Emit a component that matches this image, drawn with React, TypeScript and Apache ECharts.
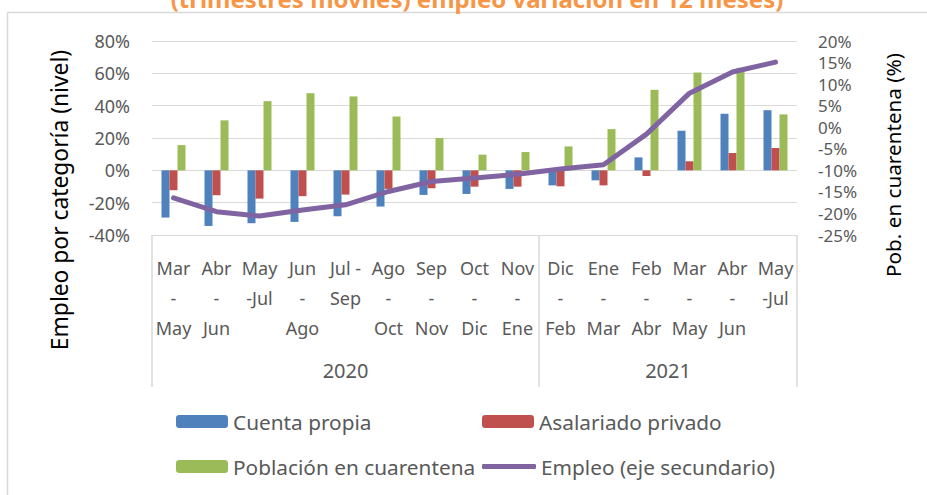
import React, { useEffect, useRef } from "react";
import * as echarts from "echarts";

const categories = [
  "Mar\n-\nMay", "Abr\n-\nJun", "May\n-Jul", "Jun\n-\nAgo", "Jul -\nSep",
  "Ago\n-\nOct", "Sep\n-\nNov", "Oct\n-\nDic", "Nov\n-\nEne", "Dic\n-\nFeb",
  "Ene\n-\nMar", "Feb\n-\nAbr", "Mar\n-\nMay", "Abr\n-\nJun", "May\n-Jul",
];
const years = ["2020", "2021"];
const yearCounts = [9, 6];

const cuentaPropia = [-29.2, -34.4, -32.7, -31.9, -28.4, -22.4, -15.2, -14.6, -11.5, -9.3, -6.2, 8.0, 24.5, 35.0, 37.2];
const asalariadoPrivado = [-12.3, -15.4, -17.5, -16.0, -15.0, -11.5, -11.1, -10.1, -10.1, -9.9, -9.3, -3.5, 5.6, 10.7, 13.8];
const poblacionCuarentena = [15.6, 30.9, 42.8, 47.7, 45.7, 33.3, 20.0, 9.7, 11.3, 14.8, 25.5, 49.8, 60.5, 63.4, 34.6];
const empleo = [-16.4, -19.6, -20.6, -19.2, -18.0, -14.9, -12.6, -11.8, -10.9, -9.7, -8.7, -1.6, 7.9, 12.8, 15.1];

const titleText = "(trimestres móviles) empleo variación en 12 meses)";
const leftName = "Empleo por categoría (nivel)";
const rightName = "Pob. en cuarentena (%)";
const names = ["Cuenta propia", "Asalariado privado", "Población en cuarentena", "Empleo (eje secundario)"];

const FONT = "'Noto Sans', sans-serif";
const GRAY = "#595959";
const GRID = "#D9D9D9";

export default function App() {
  const ref = useRef<HTMLDivElement>(null);
  useEffect(() => {
    if (!ref.current) return;
    const chart = echarts.init(ref.current, null, { renderer: "svg" });
    const legendBase = {
      orient: "horizontal",
      padding: 0,
      itemWidth: 52,
      itemHeight: 13,
      textStyle: { color: GRAY, fontSize: 20.8, fontFamily: FONT },
    };
    const option: any = {
      animation: false,
      backgroundColor: "#fff",
      textStyle: { fontFamily: FONT },
      grid: { left: 152, right: 130, top: 41, height: 194, containLabel: false },
      legend: [
        { ...legendBase, left: 176, top: 411, data: [names[0]] },
        { ...legendBase, left: 482, top: 411, data: [names[1]] },
        { ...legendBase, left: 176, top: 456, data: [names[2]] },
        {
          ...legendBase,
          left: 482,
          top: 456,
          itemWidth: 54,
          itemHeight: 5,
          data: [{ name: names[3], icon: "roundRect" }],
        },
      ],
      xAxis: {
        type: "category",
        data: categories,
        axisLine: { show: true, onZero: false, lineStyle: { color: GRID, width: 1 } },
        axisTick: { show: false },
        axisLabel: {
          interval: 0,
          color: GRAY,
          fontSize: 18,
          fontFamily: FONT,
          lineHeight: 30,
          margin: 18,
          verticalAlign: "top",
        },
        splitLine: { show: false },
      },
      yAxis: [
        {
          type: "value",
          min: -40,
          max: 80,
          interval: 20,
          axisLine: { show: false },
          axisTick: { show: false },
          axisLabel: { formatter: "{value}%", color: GRAY, fontSize: 18, fontFamily: FONT, margin: 22 },
          splitLine: { show: true, lineStyle: { color: GRID, width: 1 } },
        },
        {
          type: "value",
          min: -25,
          max: 20,
          interval: 5,
          axisLine: { show: false },
          axisTick: { show: false },
          axisLabel: { formatter: "{value}%", color: GRAY, fontSize: 17, fontFamily: FONT, margin: 21, lineHeight: 17 },
          splitLine: { show: false },
        },
      ],
      series: [
        { name: names[0], type: "bar", data: cuentaPropia, barWidth: 8, barGap: "0%", itemStyle: { color: "#4F81BD" } },
        { name: names[1], type: "bar", data: asalariadoPrivado, barWidth: 8, barGap: "0%", itemStyle: { color: "#C0504D" } },
        { name: names[2], type: "bar", data: poblacionCuarentena, barWidth: 8, barGap: "0%", itemStyle: { color: "#9BBB59" } },
        {
          name: names[3],
          type: "line",
          yAxisIndex: 1,
          data: empleo,
          symbol: "none",
          lineStyle: { color: "#8064A2", width: 5, cap: "round", join: "round" },
          itemStyle: { color: "#8064A2" },
          z: 5,
        },
      ],
    };
    chart.setOption(option);

    const c0 = chart.convertToPixel({ xAxisIndex: 0 }, 0) as number;
    const c1 = chart.convertToPixel({ xAxisIndex: 0 }, 1) as number;
    const band = c1 - c0;
    const yBottom = chart.convertToPixel({ yAxisIndex: 0 }, -40) as number;
    const graphics: any[] = [
      {
        type: "rect",
        shape: { x: 7.5, y: 12.5, width: 1000, height: 600 },
        style: { fill: "none", stroke: GRID, lineWidth: 1.5 },
        silent: true,
      },
      {
        type: "text",
        x: 477,
        y: -2,
        style: {
          text: titleText,
          fill: "#F79646",
          font: `bold 24px ${FONT}`,
          align: "center",
          verticalAlign: "middle",
        },
      },
      {
        type: "text",
        x: 59,
        y: 200,
        rotation: Math.PI / 2,
        style: { text: leftName, fill: "#000", font: `22.8px ${FONT}`, align: "center", verticalAlign: "middle" },
      },
      {
        type: "text",
        x: 893,
        y: 165,
        rotation: Math.PI / 2,
        style: { text: rightName, fill: "#000", font: `20.7px ${FONT}`, align: "center", verticalAlign: "middle" },
      },
    ];
    let start = 0;
    const bounds: number[] = [c0 - band / 2];
    yearCounts.forEach((cnt, i) => {
      const left = c0 - band / 2 + start * band;
      const right = left + cnt * band;
      bounds.push(right);
      graphics.push({
        type: "text",
        x: (left + right) / 2,
        y: 370,
        style: { text: years[i], fill: GRAY, font: `20px ${FONT}`, align: "center", verticalAlign: "middle" },
      });
      start += cnt;
    });
    bounds.forEach((bx) => {
      graphics.push({
        type: "line",
        shape: { x1: bx, y1: yBottom, x2: bx, y2: yBottom + 152 },
        style: { stroke: GRID, lineWidth: 1.5 },
        silent: true,
      });
    });
    chart.setOption({ graphic: graphics });

    return () => chart.dispose();
  }, []);
  return <div ref={ref} style={{ position: "fixed", left: 0, top: 0, width: 927, height: 495 }} />;
}
